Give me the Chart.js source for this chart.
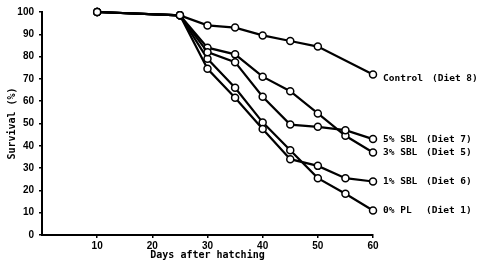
<!DOCTYPE html>
<html>
<head>
<meta charset="utf-8">
<script src="https://cdn.jsdelivr.net/npm/chart.js@4"></script>
<style>
    body { margin: 0; background: #fff; }
    #wrap { width: 489px; height: 264px; }
</style>
</head>
<body>
<div id="wrap"><canvas id="myChart" width="489" height="264"></canvas></div>
<script>
// days after hatching
const days = [10, 25, 30, 35, 40, 45, 50, 55, 60];
const xTicks = [10, 20, 30, 40, 50, 60];
const yTicks = [0, 10, 20, 30, 40, 50, 60, 70, 80, 90, 100];

const control = [100, 98.5, 94, 93, 89.5, 87, 84.5, null, 72];
const sbl5 = [100, 98.5, 82, 77.5, 62, 49.5, 48.5, 47, 43];
const sbl3 = [100, 98.5, 84, 81, 71, 64.5, 54.5, 44.5, 37];
const sbl1 = [100, 98.5, 74.5, 61.5, 47.5, 34, 31, 25.5, 24];
const pl0 = [100, 98.5, 79, 66, 50.5, 38, 25.5, 18.5, 11];

const names = ['Control', '5% SBL', '3% SBL', '1% SBL', '0% PL'];
const diets = ['(Diet 8)', '(Diet 7)', '(Diet 5)', '(Diet 6)', '(Diet 1)'];
const series = [control, sbl5, sbl3, sbl1, pl0];

function toPoints(vals) {
    return days.map((d, i) => ({x: d, y: vals[i]}));
}

// labels at the end of each line
const endLabels = {
    id: 'endLabels',
    afterDatasetsDraw(chart) {
        const ctx = chart.ctx;
        ctx.save();
        ctx.fillStyle = '#000';
        ctx.font = 'bold 9.5px "DejaVu Sans Mono"';
        ctx.textBaseline = 'middle';
        chart.data.datasets.forEach((ds, i) => {
            const meta = chart.getDatasetMeta(i);
            const pt = meta.data[meta.data.length - 1];
            const dy = i === 0 ? 4 : 0;
            ctx.fillText(names[i], pt.x + 10, pt.y + dy);
            ctx.fillText(diets[i], pt.x + (i === 0 ? 59 : 53), pt.y + dy);
        });
        ctx.restore();
    }
};

const ctx = document.querySelector('#myChart');
new Chart(ctx, {
    type: 'line',
    data: {
        datasets: series.map((s, i) => ({
            label: names[i],
            data: toPoints(s),
            borderColor: '#000',
            borderWidth: 2.2,
            pointRadius: 3.5,
            pointBorderWidth: 1.5,
            pointBackgroundColor: '#fff',
            pointBorderColor: '#000',
            tension: 0,
            spanGaps: true,
            clip: false
        }))
    },
    options: {
        responsive: false,
        animation: false,
        layout: {
            padding: {left: 0, right: 116, top: 12, bottom: 0}
        },
        plugins: {
            legend: {display: false},
            tooltip: {enabled: false}
        },
        scales: {
            x: {
                type: 'linear',
                min: 0,
                max: 60,
                afterBuildTicks: axis => { axis.ticks = xTicks.map(v => ({value: v})); },
                afterFit: axis => { axis.height = 29; },
                grid: {drawOnChartArea: false, color: '#000', lineWidth: 1.5, tickLength: 3},
                border: {color: '#000', width: 2},
                ticks: {
                    color: '#000',
                    padding: 2,
                    maxRotation: 0,
                    font: {family: 'Liberation Sans', size: 10, weight: 'bold'}
                },
                title: {
                    display: true,
                    text: 'Days after hatching',
                    color: '#000',
                    padding: {top: 0, bottom: 3},
                    font: {family: 'DejaVu Sans Mono', size: 10, weight: 'bold'}
                }
            },
            y: {
                min: 0,
                max: 100,
                afterBuildTicks: axis => { axis.ticks = yTicks.map(v => ({value: v})); },
                afterFit: axis => { axis.width = 42; },
                grid: {drawOnChartArea: false, color: '#000', lineWidth: 1.5, tickLength: 3},
                border: {color: '#000', width: 2},
                ticks: {
                    color: '#000',
                    padding: 5,
                    font: {family: 'Liberation Sans', size: 10, weight: 'bold'}
                },
                title: {
                    display: true,
                    text: 'Survival (%)',
                    color: '#000',
                    padding: {top: 6, bottom: 0},
                    font: {family: 'DejaVu Sans Mono', size: 10, weight: 'bold'}
                }
            }
        }
    },
    plugins: [endLabels]
});
</script>
</body>
</html>
